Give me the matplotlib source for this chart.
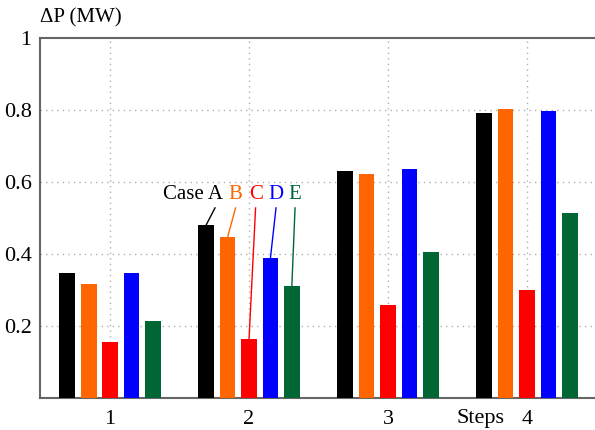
import numpy as np
import matplotlib
matplotlib.use('Agg')
import matplotlib.pyplot as plt

steps = [1, 2, 3, 4]
case_a = [0.346, 0.481, 0.631, 0.792]
case_b = [0.316, 0.447, 0.622, 0.803]
case_c = [0.155, 0.164, 0.258, 0.300]
case_d = [0.346, 0.389, 0.636, 0.797]
case_e = [0.213, 0.311, 0.405, 0.514]
case_names = ['A', 'B', 'C', 'D', 'E']
colors = ['#000000', '#ff6600', '#ff0000', '#0000ff', '#006633']

plt.rcParams['font.family'] = ['Liberation Serif', 'DejaVu Serif']
plt.rcParams['font.size'] = 15

fig = plt.figure(figsize=(5.95, 4.3), dpi=100)
ax = fig.add_axes([40/595, 32/430, 555/595, 360/430])

pitch = 0.154
width = 0.113
x = np.array(steps, dtype=float)
series = [case_a, case_b, case_c, case_d, case_e]
for i, (vals, c) in enumerate(zip(series, colors)):
    ax.bar(x + (i - 2)*pitch, vals, width, color=c, zorder=3)

# grid
for xv in steps:
    ax.axvline(xv, color='#b0b0b0', lw=1, ls=(0, (1, 3)), zorder=1)
for yv in [0.2, 0.4, 0.6, 0.8]:
    ax.axhline(yv, color='#b0b0b0', lw=1, ls=(0, (1, 3)), zorder=1)

ax.set_xlim(0.496, 4.489)
ax.set_ylim(0, 1)
ax.set_xticks(steps)
ax.set_xticklabels([str(s) for s in steps])
ax.set_yticks([0.2, 0.4, 0.6, 0.8, 1.0])
ax.set_yticklabels(['0.2', '0.4', '0.6', '0.8', '1'])
ax.tick_params(axis='both', length=0, labelsize=16)
ax.tick_params(axis='y', pad=6)
ax.tick_params(axis='x', pad=9)

for s in ['left', 'top', 'bottom']:
    ax.spines[s].set_color('#666666')
    ax.spines[s].set_linewidth(1.5)
ax.spines['right'].set_visible(False)

fig.text(40/595, 1 - 18/430, 'ΔP (MW)', ha='left', va='center', fontsize=15)
ax.annotate('Steps', xy=(3.662, -0.058), xycoords=('data', 'axes fraction'),
            ha='center', va='center', fontsize=16)

# case labels on step 2
g = 1
label_dx = [0.063, 0.057, 0.047, 0.040, 0.023]
text_y = 0.564
line_y = 0.528
for i, (vals, c, name) in enumerate(zip(series, colors, case_names)):
    bx = x[g] + (i - 2)*pitch
    lx = bx + label_dx[i]
    ax.plot([lx, bx], [line_y, vals[g]], color=c, lw=1, zorder=4)
    if i == 0:
        ax.text(lx + 0.058, text_y, 'Case A', color=c, ha='right', va='center',
                fontsize=15)
    else:
        ax.text(lx, text_y, name, color=c, ha='center', va='center',
                fontsize=15)

plt.savefig('out.png')
